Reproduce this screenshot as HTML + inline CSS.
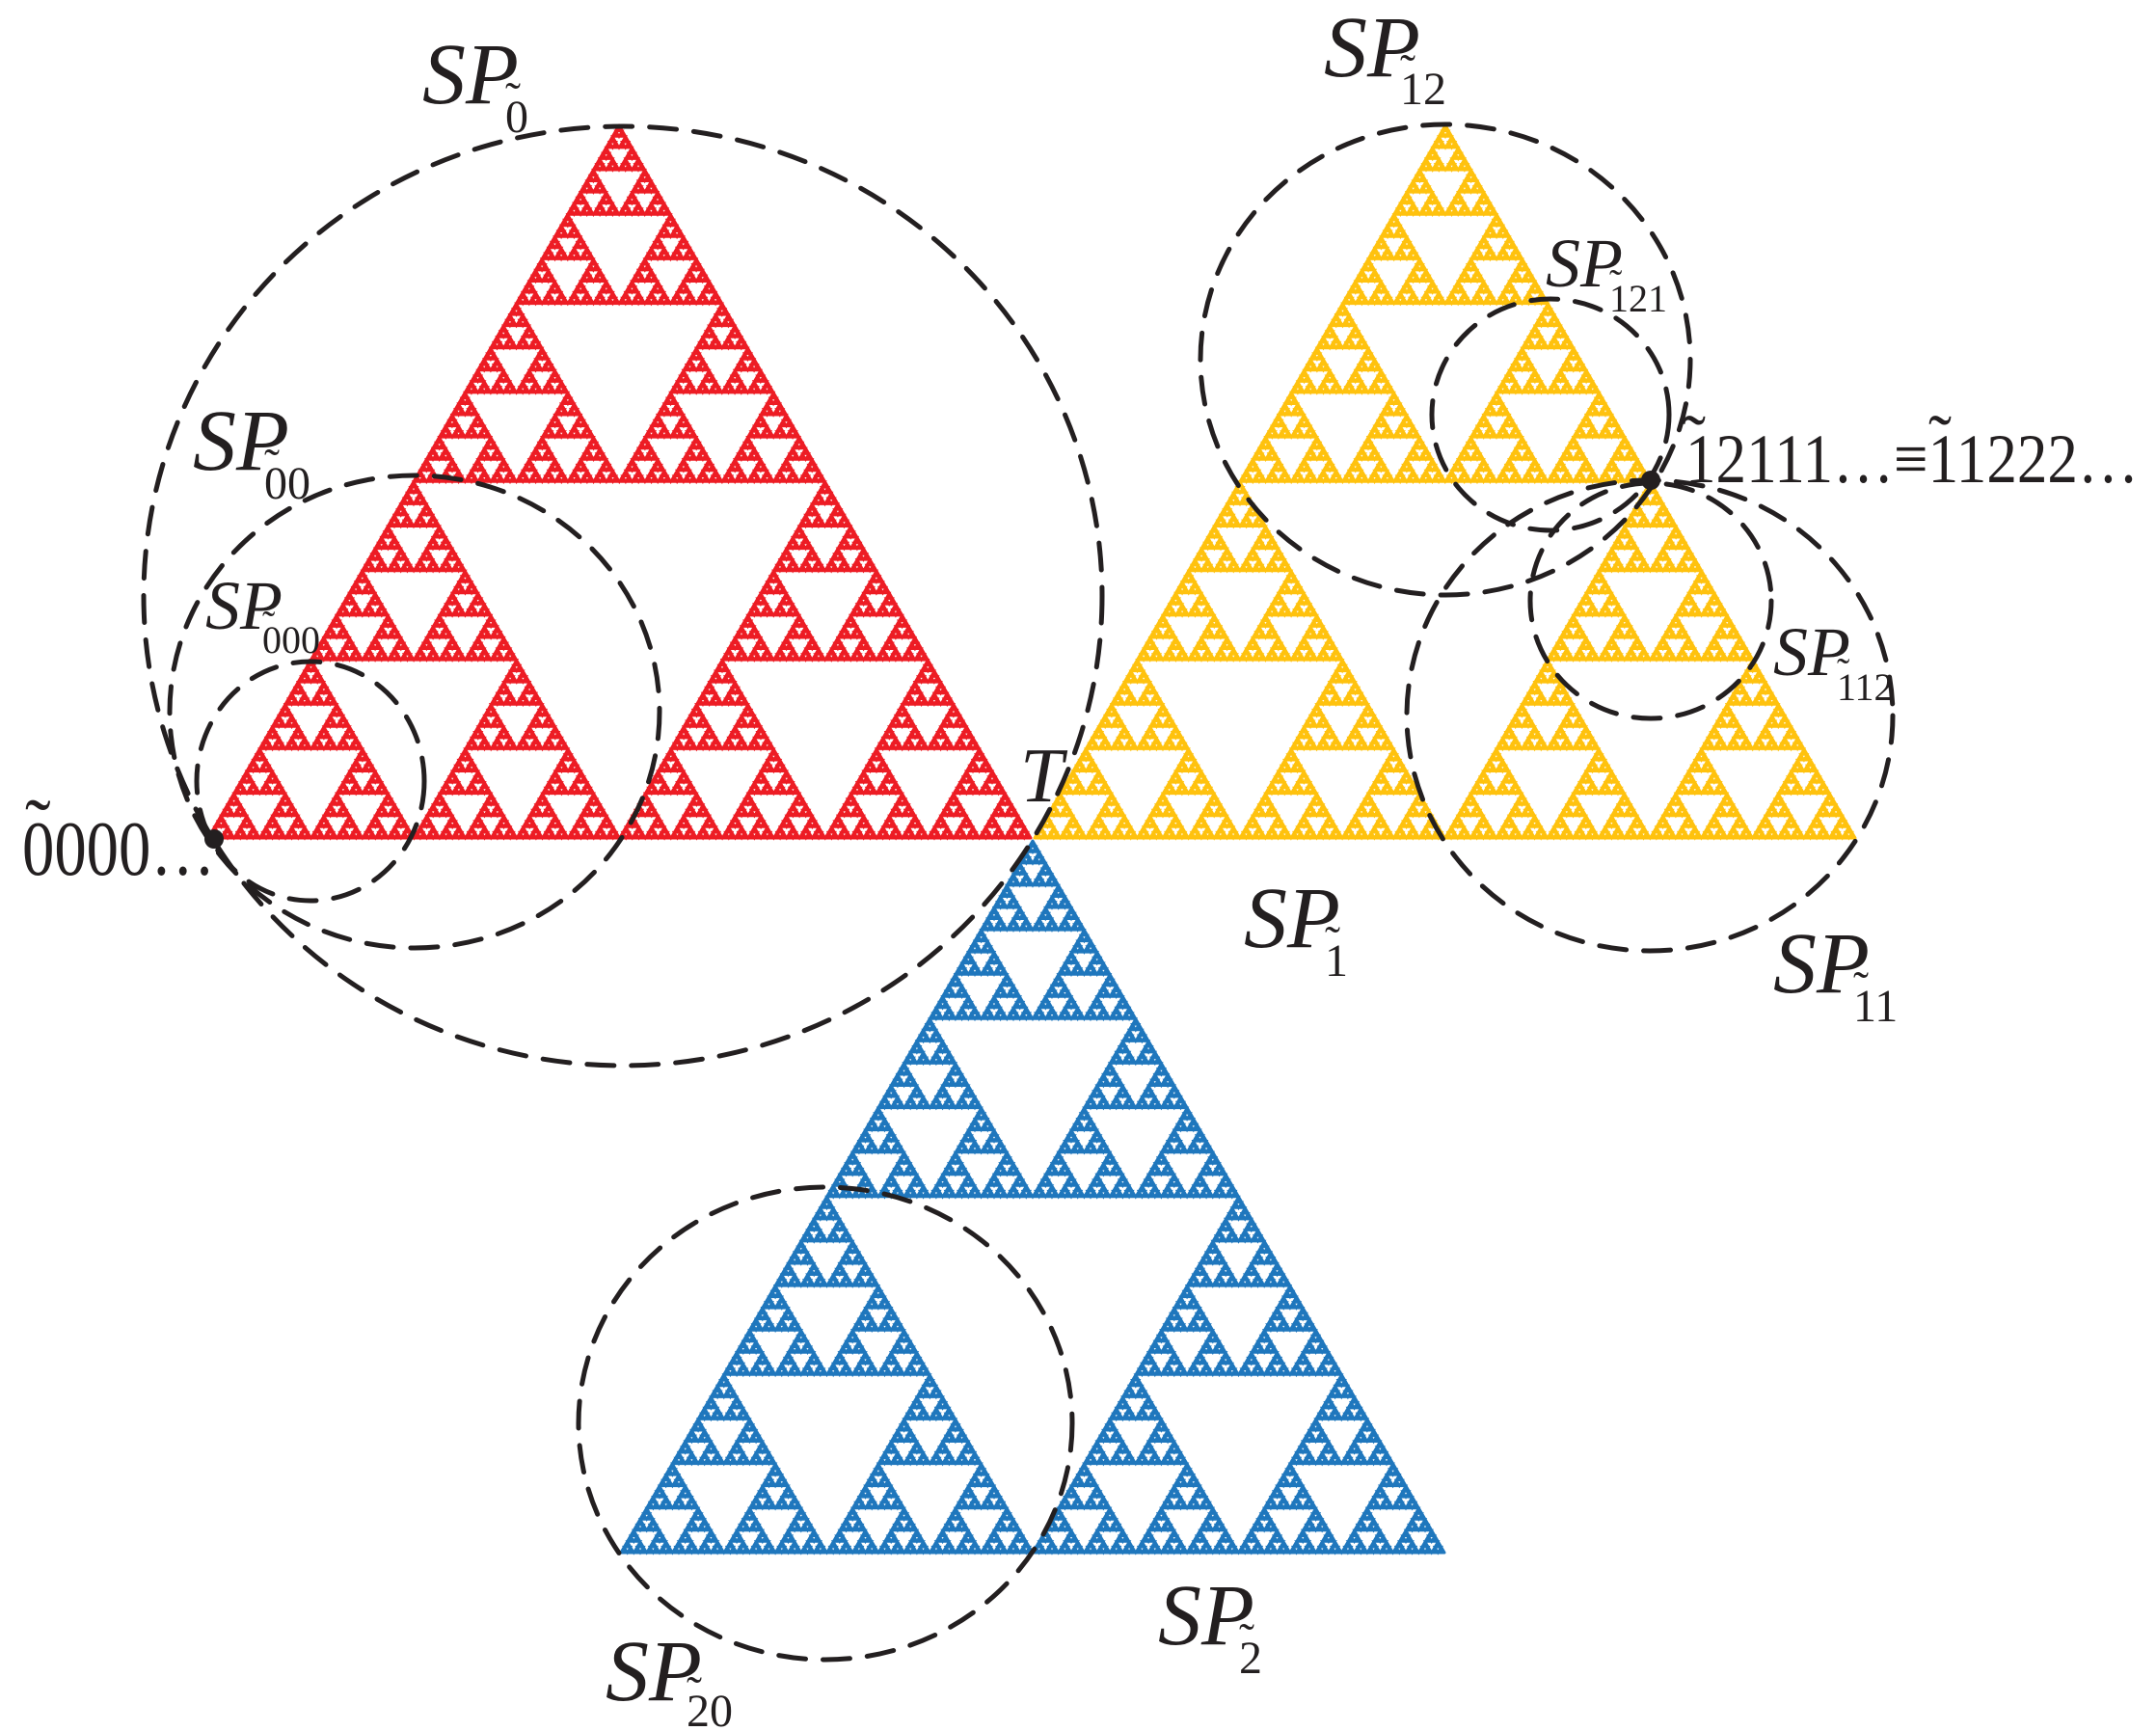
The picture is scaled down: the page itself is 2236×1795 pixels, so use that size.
<!DOCTYPE html>
<html><head><meta charset="utf-8"><style>
html,body{margin:0;padding:0;background:#fff;}
svg{display:block;}
text{font-family:"Liberation Serif",serif;fill:#231f20;}
.it{font-style:italic;}
</style></head><body>
<svg id="s" width="2236" height="1795" viewBox="0 0 2236 1795" xmlns="http://www.w3.org/2000/svg">
<g id="tri"></g>
<g fill="none" stroke="#231f20" stroke-width="5" stroke-dasharray="28 18" stroke-linecap="round">
<ellipse cx="646" cy="618" rx="497" ry="487"/>
<ellipse cx="430" cy="738" rx="254" ry="245"/>
<ellipse cx="322" cy="810" rx="118" ry="124"/>
<ellipse cx="1499" cy="373" rx="254" ry="244"/>
<ellipse cx="1608" cy="430" rx="123" ry="120"/>
<ellipse cx="1711" cy="742" rx="252" ry="244"/>
<ellipse cx="1712" cy="623" rx="125" ry="122"/>
<ellipse cx="856" cy="1476" rx="256" ry="245"/>
</g>
<circle cx="222" cy="870" r="10" fill="#231f20"/>
<circle cx="1712" cy="498" r="10" fill="#231f20"/>
<g font-size="90">
<text class="it" x="438" y="107">SP</text><text x="524" y="137" font-size="48">0</text><text x="524" y="118" font-size="48">˜</text>
<text class="it" x="200" y="487">SP</text><text x="274" y="517" font-size="48">00</text><text x="274" y="498" font-size="48">˜</text>
<text class="it" x="213" y="652" font-size="72">SP</text><text x="272" y="677" font-size="40">000</text><text x="272" y="661" font-size="40">˜</text>
<text x="23" y="907" font-size="80" textLength="200" lengthAdjust="spacingAndGlyphs">0000…</text><text x="26" y="884" font-size="80">˜</text>
<text class="it" x="1058" y="831" font-size="80">T</text>
<text class="it" x="1373" y="79">SP</text><text x="1452" y="108" font-size="48">12</text><text x="1452" y="89" font-size="48">˜</text>
<text class="it" x="1603" y="297" font-size="72">SP</text><text x="1669" y="323" font-size="40">121</text><text x="1669" y="307" font-size="40">˜</text>
<text x="1748" y="500" font-size="72" textLength="470" lengthAdjust="spacingAndGlyphs">12111…≡11222…</text>
<text x="1745" y="480" font-size="72">˜</text><text x="2000" y="480" font-size="72">˜</text>
<text class="it" x="1839" y="700" font-size="72">SP</text><text x="1905" y="726" font-size="40">112</text><text x="1905" y="710" font-size="40">˜</text>
<text class="it" x="1290" y="982">SP</text><text x="1374" y="1012" font-size="48">1</text><text x="1374" y="993" font-size="48">˜</text>
<text class="it" x="1839" y="1029">SP</text><text x="1922" y="1059" font-size="48">11</text><text x="1922" y="1040" font-size="48">˜</text>
<text class="it" x="1201" y="1705">SP</text><text x="1285" y="1735" font-size="48">2</text><text x="1285" y="1716" font-size="48">˜</text>
<text class="it" x="628" y="1763">SP</text><text x="712" y="1790" font-size="48">20</text><text x="712" y="1771" font-size="48">˜</text>
</g>
</svg>
<script>
(function(){
var g=document.getElementById('tri');var NS='http://www.w3.org/2000/svg';
function holes(ax,ay,bx,by,cx,cy,d,arr){
 if(d==0)return;
 var abx=(ax+bx)/2,aby=(ay+by)/2,bcx=(bx+cx)/2,bcy=(by+cy)/2,cax=(cx+ax)/2,cay=(cy+ay)/2;
 arr.push('M'+abx.toFixed(1)+' '+aby.toFixed(1)+'L'+bcx.toFixed(1)+' '+bcy.toFixed(1)+'L'+cax.toFixed(1)+' '+cay.toFixed(1)+'Z');
 holes(ax,ay,abx,aby,cax,cay,d-1,arr);holes(abx,aby,bx,by,bcx,bcy,d-1,arr);holes(cax,cay,bcx,bcy,cx,cy,d-1,arr);
}
function sp(ax,ay,bx,by,cx,cy,col){
 var p=document.createElementNS(NS,'path');
 p.setAttribute('d','M'+ax+' '+ay+'L'+bx+' '+by+'L'+cx+' '+cy+'Z');p.setAttribute('fill',col);
 p.setAttribute('stroke',col);p.setAttribute('stroke-width','3');p.setAttribute('stroke-linejoin','round');g.appendChild(p);
 var a=[];holes(ax,ay,bx,by,cx,cy,7,a);
 var q=document.createElementNS(NS,'path');q.setAttribute('d',a.join(''));q.setAttribute('fill','#fff');
 q.setAttribute('stroke',col);q.setAttribute('stroke-width','2.6');g.appendChild(q);
}
sp(642,130,216,869,1069,869,'#ed1c24');
sp(1499,130,1073,869,1924,869,'#ffc20e');
sp(1071,872,644,1610,1498,1610,'#1f77bd');
})();
</script>
</body></html>
